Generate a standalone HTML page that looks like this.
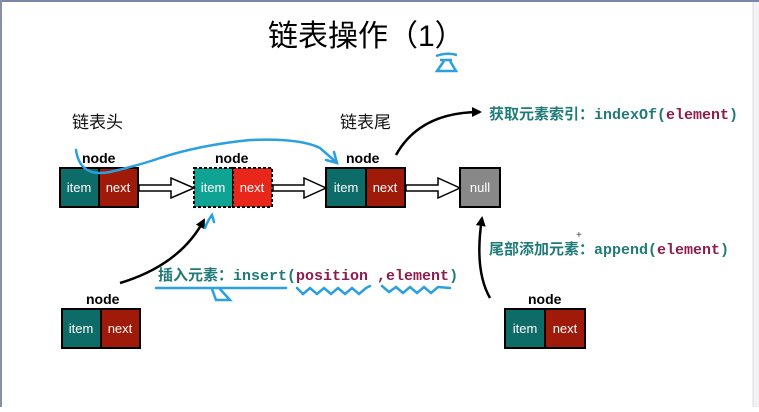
<!DOCTYPE html>
<html><head><meta charset="utf-8"><style>
html,body{margin:0;padding:0;background:#fff;}
body{width:759px;height:407px;overflow:hidden;position:relative;}
text{font-family:"Liberation Sans","Noto Sans CJK SC",sans-serif;}
.m{font-family:"Liberation Mono","Noto Sans CJK SC",monospace;font-weight:bold;}
</style></head><body>
<svg width="759" height="407" viewBox="0 0 759 407" xmlns="http://www.w3.org/2000/svg">
<defs>
<marker id="ah" markerWidth="10" markerHeight="10" refX="8" refY="5" orient="auto" markerUnits="userSpaceOnUse"><path d="M0,0 L10,5 L0,10 z" fill="#000"/></marker>
</defs>
<rect x="0" y="0" width="759" height="407" fill="#fff"/>
<rect x="0" y="0" width="759" height="2" fill="#7a86a8"/>
<rect x="0" y="0" width="2" height="407" fill="#8890a8"/>
<rect x="753" y="2" width="6" height="405" fill="#f2f2f4"/>
<line x1="753" y1="2" x2="753" y2="407" stroke="#dcdce0"/>

<text x="268" y="46" font-size="30" fill="#000">链表操作（1）</text>
<path d="M436,56 Q447,52 457,55 M440,60 L452,60 M444,61 L437,71 L456,71 L450,61" stroke="#2aa0e0" stroke-width="2.5" fill="none"/>

<text x="72" y="128" font-size="17" fill="#111">链表头</text>
<text x="340" y="128" font-size="17" fill="#111">链表尾</text>

<g font-weight="bold" font-size="14" fill="#000">
<text x="82" y="163">node</text><text x="215" y="163">node</text><text x="346" y="163">node</text>
<text x="86" y="304">node</text><text x="528" y="304">node</text>
</g>

<g stroke="#000" stroke-width="2">
<rect x="60" y="168" width="39" height="39" fill="#0d6b68"/><rect x="99" y="168" width="39" height="39" fill="#a01a0a"/>
<rect x="326" y="168" width="40" height="39" fill="#0d6b68"/><rect x="366" y="168" width="39" height="39" fill="#a01a0a"/>
<rect x="460" y="168" width="40" height="39" fill="#888"/>
<rect x="62" y="309" width="39" height="39" fill="#0d6b68"/><rect x="101" y="309" width="39" height="39" fill="#a01a0a"/>
<rect x="505" y="309" width="40" height="39" fill="#0d6b68"/><rect x="545" y="309" width="40" height="39" fill="#a01a0a"/>
</g>
<g stroke="#000" stroke-width="2" stroke-dasharray="3,2">
<rect x="194" y="168" width="39" height="39" fill="#0fa394"/><rect x="233" y="168" width="39" height="39" fill="#e8261a"/>
</g>
<g font-size="13" fill="#fff" text-anchor="middle">
<text x="79" y="192">item</text><text x="118" y="192">next</text>
<text x="213" y="192">item</text><text x="252" y="192">next</text>
<text x="346" y="192">item</text><text x="385" y="192">next</text>
<text x="480" y="192">null</text>
<text x="81" y="333">item</text><text x="120" y="333">next</text>
<text x="525" y="333">item</text><text x="565" y="333">next</text>
</g>

<g fill="#fff" stroke="#000" stroke-width="1.5">
<path d="M139,185 L171,185 L171,178 L194,188 L171,198 L171,191 L139,191 z"/>
<path d="M273,185 L304,185 L304,178 L326,188 L304,198 L304,191 L273,191 z"/>
<path d="M406,185 L438,185 L438,178 L460,188 L438,198 L438,191 L406,191 z"/>
</g>

<g stroke="#000" stroke-width="2.5" fill="none" marker-end="url(#ah)">
<path d="M396,155 Q420,112 480,112"/>
<path d="M120,283 Q180,265 204,220"/>
<path d="M490,298 Q474,270 482,218"/>
</g>

<text x="489" y="119" font-size="15" fill="#1f7a78" font-weight="bold">获取元素索引：<tspan class="m">indexOf(<tspan fill="#8b1c4e">element</tspan>)</tspan></text>
<text x="489" y="254" font-size="15" fill="#1f7a78" font-weight="bold">尾部添加元素：<tspan class="m">append(<tspan fill="#8b1c4e">element</tspan>)</tspan></text>
<text x="158" y="280" font-size="15" fill="#1f7a78" font-weight="bold">插入元素：<tspan class="m">insert(<tspan fill="#8b1c4e">position ,element</tspan>)</tspan></text>

<g stroke="#2aa0e0" stroke-width="2.5" fill="none" stroke-linecap="round">
<path d="M76,150 Q80,178 110,172 Q140,165 160,158 Q200,145 250,140 Q300,138 320,148 L336,162"/>
<path d="M326,160 L337,163 L334,152"/>
<path d="M205,228 Q208,220 212,215 L214,222"/>
<path d="M156,288 L286,288 M212,289 L216,300 L230,300 L220,289"/>
<path d="M297,288 L303,294 L310,288 L317,294 L324,288 L331,294 L338,288 L345,294 L352,288 L359,294 L366,288 L370,286"/>
<path d="M382,286 L389,292 L396,287 L403,293 L410,287 L417,293 L424,287 L431,293 L438,287 L450,288"/>
</g>
<text x="576" y="238" font-size="10" fill="#444">+</text>
</svg>
</body></html>
